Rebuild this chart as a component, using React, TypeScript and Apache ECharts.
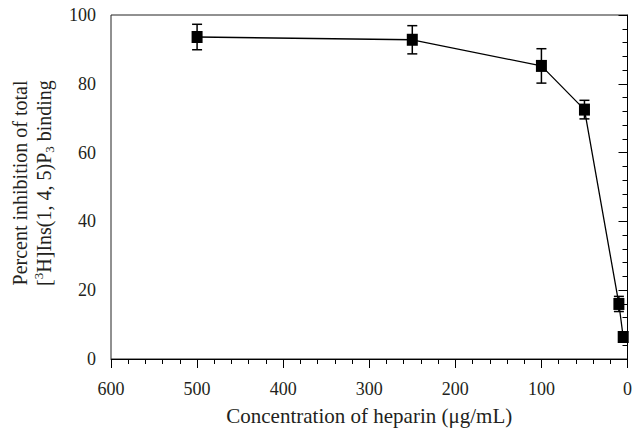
import React, { useEffect, useRef } from "react";
import * as echarts from "echarts";

const concentrations = [500, 250, 100, 50, 10, 5];
const inhibition = [93.6, 92.8, 85.2, 72.5, 16.0, 6.4];
const errors = [3.7, 4.1, 5.0, 2.7, 2.2, 1.5];

const xTitle = "Concentration of heparin (\u03bcg/mL)";
const yTitleLine1 = "Percent inhibition of total";

const FONT = "'Liberation Serif', 'DejaVu Serif', serif";
const TEXT = "#231f20";

export default function App() {
  const ref = useRef<HTMLDivElement>(null);
  useEffect(() => {
    if (!ref.current) return;
    const chart = echarts.init(ref.current, undefined, { renderer: "svg" });
    const points = concentrations.map((c, i) => [c, inhibition[i]]);
    const errData = concentrations.map((c, i) => [c, inhibition[i] - errors[i], inhibition[i] + errors[i]]);
    chart.setOption({
      animation: false,
      textStyle: { fontFamily: FONT, color: TEXT },
      grid: {
        left: 110,
        right: 5,
        top: 15,
        bottom: 70,
        show: true,
        borderColor: "#222",
        borderWidth: 1,
      },
      xAxis: {
        type: "value",
        min: 0,
        max: 600,
        interval: 100,
        inverse: true,
        name: xTitle,
        nameLocation: "middle",
        nameGap: 46,
        nameTextStyle: { fontFamily: FONT, fontSize: 21, color: TEXT },
        axisLine: { lineStyle: { color: "#000", width: 1 } },
        axisTick: { show: true, length: 9, lineStyle: { color: "#000" } },
        minorTick: { show: true, splitNumber: 5, length: 5, lineStyle: { color: "#000" } },
        splitLine: { show: false },
        axisLabel: { fontFamily: FONT, fontSize: 18, color: TEXT, margin: 21 },
      },
      yAxis: {
        type: "value",
        min: 0,
        max: 100,
        interval: 20,
        name:
          "{a|" + yTitleLine1 + "}\n{a|[}{sup|3}{a|H]Ins(1, 4, 5)P}{sub|3}{a| binding}",
        nameLocation: "middle",
        nameRotate: 90,
        nameGap: 55,
        nameTextStyle: {
          fontFamily: FONT,
          fontSize: 20,
          color: TEXT,
          lineHeight: 24,
          padding: [0, 0, 0, 8],
          rich: {
            a: { fontFamily: FONT, fontSize: 20, color: TEXT, lineHeight: 24 },
            sup: { fontFamily: FONT, fontSize: 13, color: TEXT, verticalAlign: "top", lineHeight: 24, padding: [0, 0, 6, 0] },
            sub: { fontFamily: FONT, fontSize: 13, color: TEXT, verticalAlign: "bottom", lineHeight: 24, padding: [6, 0, 0, 0] },
          },
        },
        axisLine: { show: true, lineStyle: { color: "#000", width: 1 } },
        axisTick: { show: true, length: 9, lineStyle: { color: "#000" } },
        minorTick: { show: true, splitNumber: 5, length: 5, lineStyle: { color: "#000" } },
        splitLine: { show: false },
        axisLabel: { fontFamily: FONT, fontSize: 18, color: TEXT, margin: 15 },
      },
      series: [
        {
          type: "custom",
          data: errData,
          z: 1,
          renderItem: (params: any, api: any) => {
            const x = api.value(0);
            const lo = api.coord([x, api.value(1)]);
            const hi = api.coord([x, api.value(2)]);
            const hw = 5;
            const style = { stroke: "#000", lineWidth: 1.5 };
            return {
              type: "group",
              children: [
                { type: "line", shape: { x1: lo[0], y1: lo[1], x2: hi[0], y2: hi[1] }, style },
                { type: "line", shape: { x1: lo[0] - hw, y1: lo[1], x2: lo[0] + hw, y2: lo[1] }, style },
                { type: "line", shape: { x1: hi[0] - hw, y1: hi[1], x2: hi[0] + hw, y2: hi[1] }, style },
              ],
            };
          },
        },
        {
          type: "line",
          data: points,
          z: 2,
          symbol: "rect",
          symbolSize: [11, 12],
          lineStyle: { color: "#000", width: 1.3 },
          itemStyle: { color: "#000" },
        },
      ],
    });
    return () => chart.dispose();
  }, []);
  return <div ref={ref} style={{ width: 635, height: 431, position: "absolute", left: 0, top: 0 }} />;
}
